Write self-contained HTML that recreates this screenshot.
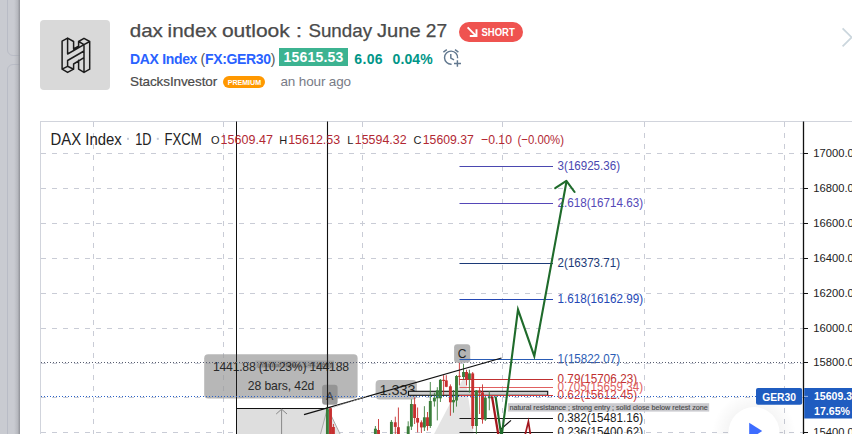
<!DOCTYPE html>
<html><head><meta charset="utf-8">
<style>
html,body{margin:0;padding:0;}
body{width:852px;height:434px;overflow:hidden;background:#fff;position:relative;font-family:"Liberation Sans",sans-serif;}
.abs{position:absolute;white-space:nowrap;}
#strip{left:0;top:0;width:20px;height:434px;background:#c9cbd1;}
.card{left:7px;width:20px;border:1px solid #b9bcc6;border-radius:6px;}
#avatar{left:40px;top:20px;width:70px;height:70px;border-radius:4px;background:#d9d9d9;}
#title{left:130px;top:19px;font-size:20px;line-height:24px;color:#4a4a4a;}
#short{left:459px;top:22px;width:64px;height:20px;border-radius:10px;background:#ef5350;color:#fff;font-size:10.5px;font-weight:bold;line-height:20px;letter-spacing:-0.55px;}
#sym{left:130px;top:49.6px;font-size:14px;line-height:18px;color:#2962ff;font-weight:bold;letter-spacing:-0.33px;}
#price{left:279px;top:48px;width:69px;height:17.5px;background:#3cb391;color:#fff;font-weight:bold;font-size:14px;line-height:18px;text-align:center;letter-spacing:0.2px;}
#chg,#chg2{left:354.3px;top:49.6px;font-size:14px;line-height:18px;color:#009688;font-weight:bold;letter-spacing:0.35px;}
#chg2{left:392.6px;letter-spacing:0.1px;}
#author{left:130px;top:72.7px;font-size:13.5px;line-height:18px;color:#4a4a4a;letter-spacing:-0.1px;-webkit-text-stroke:0.2px #4a4a4a;}
#prem{left:223px;top:76px;width:42px;height:12px;border-radius:6px;background:#ff9800;color:#fff;font-size:7.2px;line-height:12px;text-align:center;font-weight:bold;}
#ago{left:280.5px;top:72.7px;font-size:13.5px;line-height:18px;color:#787b86;letter-spacing:-0.15px;}
#chart{left:40px;top:121px;width:830px;height:330px;border:1px solid #d1d4dc;box-sizing:border-box;}
</style></head><body>
<div id="strip" class="abs"></div>
<div class="abs card" style="top:-10px;height:64px;"></div>
<div class="abs card" style="top:63.5px;height:400px;"></div>
<div id="stripshade" class="abs" style="left:14px;top:0;width:6px;height:434px;background:linear-gradient(90deg,rgba(150,152,158,0) 0,rgba(150,152,158,0.35) 60%,rgba(140,142,148,0.95) 100%);"></div>
<div class="abs" style="left:20px;top:0;width:832px;height:434px;background:#fff;"></div>
<div id="avatar" class="abs"></div>
<div id="short" class="abs"></div>
<div id="sym" class="abs">DAX Index <span style="color:#555;font-weight:normal">(</span>FX:GER30<span style="color:#555;font-weight:normal">)</span></div>
<div id="price" class="abs">15615.53</div>
<div id="chg" class="abs">6.06</div><div id="chg2" class="abs">0.04%</div>
<div id="author" class="abs">StacksInvestor</div>
<div id="prem" class="abs"></div>
<div id="ago" class="abs">an hour ago</div>
<div id="chart" class="abs"></div>
<svg class="abs" style="left:0;top:0" width="852" height="434" viewBox="0 0 852 434" font-family="Liberation Sans, sans-serif">
<!-- title -->
<g font-size="19" fill="#4a4a4a" stroke="#4a4a4a" stroke-width="0.25"><text x="129.7" y="37.2" textLength="33.2" lengthAdjust="spacingAndGlyphs">dax</text><text x="167.6" y="37.2" textLength="49.1" lengthAdjust="spacingAndGlyphs">index</text><text x="221.9" y="37.2" textLength="68.0" lengthAdjust="spacingAndGlyphs">outlook</text><text x="295.8" y="37.2" textLength="6.4" lengthAdjust="spacingAndGlyphs">:</text><text x="308.4" y="37.2" textLength="63.7" lengthAdjust="spacingAndGlyphs">Sunday</text><text x="376.9" y="37.2" textLength="43.7" lengthAdjust="spacingAndGlyphs">June</text><text x="425.8" y="37.2" textLength="21.3" lengthAdjust="spacingAndGlyphs">27</text></g>
<!-- avatar logo -->
<g fill="none" stroke="#1c1c1c" stroke-width="1.5" stroke-linejoin="round" stroke-linecap="round">
<path d="M62.1 69.2 L62.1 41.2 L67.6 38.1 L73.6 41.5 L73.6 49.0 M62.1 69.2 L67.6 72.4 L73.6 69.2 L67.6 66.3 Z M67.6 38.1 L67.6 54.0 M67.6 66.3 L67.6 60.5 M73.6 69.2 L73.6 64.0 M78.6 41.5 L84.0 38.3 L89.7 41.5 L84.0 44.7 Z M89.7 41.5 L89.7 69.2 L84.0 72.4 L78.6 69.2 L78.6 60.2 M84.0 44.7 L84.0 72.4 M78.6 41.5 L78.6 46.4 M73.6 49.0 L78.6 46.1 M67.6 54.0 L84.0 44.7 M67.6 60.5 L84.0 51.0 M73.6 64.0 L84.0 57.6"/>
</g>
<text x="227.7" y="84.9" font-size="8" font-weight="bold" fill="#fff" textLength="33.4" lengthAdjust="spacingAndGlyphs">PREMIUM</text>
<!-- short arrow -->
<text x="481.5" y="35.8" font-size="10.8" font-weight="bold" fill="#fff" textLength="33.3" lengthAdjust="spacingAndGlyphs">SHORT</text>
<g stroke="#fff" stroke-width="1.9" fill="none" stroke-linecap="butt" stroke-linejoin="miter">
<path d="M467.6 27.4 L476 35.8 M469.8 36 L476.5 36 L476.5 29.2"/>
</g>
<!-- alarm icon -->
<g stroke="#62788f" stroke-width="1.45" fill="none" stroke-linecap="butt">
<path d="M457.6 58.2 A6.55 6.55 0 1 0 451.6 64.2"/>
<path d="M450.8 54 L450.8 58 L454 59.9"/>
<path d="M443.4 52.1 L446.8 49.6 M455 49.6 L458.4 52.1"/>
<path d="M457.4 60.2 L457.4 66.8 M454 63.5 L461 63.5"/>
</g>
<!-- chevron -->
<path d="M842.6 28.4 L851.7 37.4 L842.6 46.4" stroke="#cbd6dd" stroke-width="1.8" fill="none"/>
<g stroke="#c9ccd6" stroke-width="1" stroke-dasharray="5 6" shape-rendering="auto"><line x1="41" y1="153.5" x2="803" y2="153.5" />
<line x1="41" y1="188.5" x2="803" y2="188.5" />
<line x1="41" y1="223.5" x2="803" y2="223.5" />
<line x1="41" y1="258.5" x2="803" y2="258.5" />
<line x1="41" y1="293.5" x2="803" y2="293.5" />
<line x1="41" y1="328.5" x2="803" y2="328.5" />
<line x1="41" y1="363.5" x2="803" y2="363.5" />
<line x1="41" y1="397.5" x2="803" y2="397.5" />
<line x1="41" y1="432.5" x2="803" y2="432.5" />
<line x1="93.5" y1="122" x2="93.5" y2="434" />
<line x1="223.5" y1="122" x2="223.5" y2="434" />
<line x1="362.5" y1="122" x2="362.5" y2="434" />
<line x1="502.5" y1="122" x2="502.5" y2="434" />
<line x1="644.5" y1="122" x2="644.5" y2="434" />
<line x1="784.5" y1="122" x2="784.5" y2="434" /></g>
<!-- measure fill -->
<rect x="237" y="408.4" width="90.5" height="30" fill="#dedede"/>
<polygon points="327.5,408 320,436 341,436" fill="#e6e6e6" stroke="#aaa" stroke-width="1"/>
<polygon points="465,375 433,436 474,436" fill="#e4e4e4"/>
<line x1="236.5" y1="121.5" x2="236.5" y2="434" stroke="#111" stroke-width="1"/>
<line x1="327.5" y1="121.5" x2="327.5" y2="434" stroke="#111" stroke-width="1.1"/>
<line x1="236.5" y1="408.5" x2="327.5" y2="408.5" stroke="#111" stroke-width="1.1"/>
<path d="M281.6 434 L281.6 409.5 M276.2 414 L281.6 409.2 L287 414" stroke="#888" stroke-width="1" fill="none"/>
<!-- dotted lines -->
<!-- measure label -->
<rect x="204.2" y="354.2" width="153.4" height="44.2" rx="4" fill="#999" fill-opacity="0.7"/>
<rect x="255.5" y="360.6" width="78.5" height="7.6" fill="#999" fill-opacity="0.7"/>
<text x="257" y="367" font-size="5.5" fill="#666" textLength="75" lengthAdjust="spacingAndGlyphs">(natural retest 1441.88)</text>
<text x="213" y="370.6" font-size="12.2" fill="#2a2a2a" textLength="136" lengthAdjust="spacing">1441.88 (10.23%) 144188</text>
<text x="247.8" y="390.4" font-size="12.2" fill="#2a2a2a" textLength="66.6" lengthAdjust="spacing">28 bars, 42d</text>
<rect x="322.1" y="384.8" width="15.5" height="19.9" rx="3" fill="#909090" fill-opacity="0.9"/>
<text x="326" y="399.6" font-size="11" fill="#444">A</text>
<line x1="236.5" y1="354" x2="236.5" y2="399" stroke="#111" stroke-width="1" opacity="0.9"/>
<line x1="327.5" y1="354" x2="327.5" y2="409" stroke="#111" stroke-width="1.1" opacity="0.9"/>
<!-- 1.333 label -->
<rect x="375.6" y="380" width="41.3" height="19.4" rx="4" fill="#b4b4b4" fill-opacity="0.9"/>
<text x="379.4" y="394.8" font-size="14" fill="#2a2a2a" textLength="36" lengthAdjust="spacingAndGlyphs">1.333</text>
<!-- gray bar -->
<rect x="408.5" y="391.3" width="139.2" height="4" fill="#cfcfcf" stroke="#111" stroke-width="1.1"/>
<line x1="459.5" y1="166.5" x2="553" y2="166.5" stroke="#4a48b0" stroke-width="1.1"/>
<text x="557.6" y="170.4" font-size="12.1" fill="#4a48b0" textLength="62.4" lengthAdjust="spacingAndGlyphs">3(16925.36)</text>
<line x1="459.5" y1="203.5" x2="553" y2="203.5" stroke="#5548b8" stroke-width="1.1"/>
<text x="557.6" y="207.4" font-size="12.1" fill="#5548b8" textLength="85.5" lengthAdjust="spacingAndGlyphs">2.618(16714.63)</text>
<line x1="459.5" y1="263.5" x2="553" y2="263.5" stroke="#1c3a78" stroke-width="1.1"/>
<text x="557.6" y="267.4" font-size="12.1" fill="#1c3a78" textLength="62.4" lengthAdjust="spacingAndGlyphs">2(16373.71)</text>
<line x1="459.5" y1="299.5" x2="553" y2="299.5" stroke="#2447b5" stroke-width="1.1"/>
<text x="557.6" y="303.4" font-size="12.1" fill="#2447b5" textLength="85.5" lengthAdjust="spacingAndGlyphs">1.618(16162.99)</text>
<line x1="459.5" y1="359.5" x2="553" y2="359.5" stroke="#2a5cb5" stroke-width="1.1"/>
<text x="557.6" y="363.4" font-size="12.1" fill="#2a5cb5" textLength="62.4" lengthAdjust="spacingAndGlyphs">1(15822.07)</text>
<line x1="459.5" y1="379.5" x2="553" y2="379.5" stroke="#c03030" stroke-width="1.1"/>
<text x="557.6" y="383.4" font-size="12.1" fill="#c03030" textLength="79.5" lengthAdjust="spacingAndGlyphs">0.79(15706.23)</text>
<line x1="459.5" y1="387.5" x2="553" y2="387.5" stroke="#e06060" stroke-width="1.1"/>
<text x="557.6" y="391.4" font-size="12.1" fill="#e06060" textLength="85.5" lengthAdjust="spacingAndGlyphs">0.705(15659.34)</text>
<line x1="459.5" y1="395.5" x2="553" y2="395.5" stroke="#d03a3a" stroke-width="1.1"/>
<text x="557.6" y="399.4" font-size="12.1" fill="#d03a3a" textLength="79.5" lengthAdjust="spacingAndGlyphs">0.62(15612.45)</text>
<line x1="459.5" y1="418.5" x2="553" y2="418.5" stroke="#1a1a1a" stroke-width="1.1"/>
<text x="557.6" y="422.4" font-size="12.1" fill="#1a1a1a" textLength="85.5" lengthAdjust="spacingAndGlyphs">0.382(15481.16)</text>
<line x1="459.5" y1="432.5" x2="553" y2="432.5" stroke="#1a1a1a" stroke-width="1.1"/>
<text x="557.6" y="436.4" font-size="12.1" fill="#1a1a1a" textLength="85.5" lengthAdjust="spacingAndGlyphs">0.236(15400.62)</text>
<line x1="327.4" y1="407.5" x2="327.4" y2="436" stroke="#3a7d3a" stroke-width="0.9"/>
<rect x="325.95" y="407.5" width="2.9" height="28.5" fill="#3a7d3a"/>
<line x1="330.5" y1="407.5" x2="330.5" y2="436" stroke="#c62f2f" stroke-width="0.9"/>
<rect x="329.05" y="407.5" width="2.9" height="28.5" fill="#c62f2f"/>
<line x1="333.4" y1="424" x2="333.4" y2="436" stroke="#c62f2f" stroke-width="0.9"/>
<rect x="331.95" y="427" width="2.9" height="9.0" fill="#c62f2f"/>
<line x1="375.4" y1="426" x2="375.4" y2="436" stroke="#3a7d3a" stroke-width="0.9"/>
<rect x="373.95" y="428.7" width="2.9" height="7.3" fill="#3a7d3a"/>
<line x1="378.5" y1="419" x2="378.5" y2="436" stroke="#c62f2f" stroke-width="0.9"/>
<rect x="377.05" y="430" width="2.9" height="6.0" fill="#c62f2f"/>
<line x1="391.4" y1="420" x2="391.4" y2="436" stroke="#3a7d3a" stroke-width="0.9"/>
<rect x="389.95" y="421.9" width="2.9" height="14.1" fill="#3a7d3a"/>
<line x1="395.3" y1="416.7" x2="395.3" y2="436" stroke="#c62f2f" stroke-width="0.9"/>
<rect x="393.85" y="422.3" width="2.9" height="4.6" fill="#c62f2f"/>
<line x1="398.4" y1="407.5" x2="398.4" y2="436" stroke="#c62f2f" stroke-width="0.9"/>
<rect x="396.95" y="427.2" width="2.9" height="8.8" fill="#c62f2f"/>
<line x1="408.2" y1="421.3" x2="408.2" y2="436" stroke="#3a7d3a" stroke-width="0.9"/>
<rect x="406.75" y="426.3" width="2.9" height="9.7" fill="#3a7d3a"/>
<line x1="411.4" y1="399.2" x2="411.4" y2="430" stroke="#3a7d3a" stroke-width="0.9"/>
<rect x="409.95" y="404.0" width="2.9" height="22.6" fill="#3a7d3a"/>
<line x1="414.6" y1="397.4" x2="414.6" y2="424" stroke="#c62f2f" stroke-width="0.9"/>
<rect x="413.15" y="404.2" width="2.9" height="13.8" fill="#c62f2f"/>
<line x1="417.6" y1="407.5" x2="417.6" y2="432.4" stroke="#c62f2f" stroke-width="0.9"/>
<rect x="416.15" y="418" width="2.9" height="4.6" fill="#c62f2f"/>
<line x1="421.4" y1="420.4" x2="421.4" y2="433" stroke="#c62f2f" stroke-width="0.9"/>
<rect x="419.95" y="422.3" width="2.9" height="5.1" fill="#c62f2f"/>
<line x1="424.4" y1="406.2" x2="424.4" y2="431" stroke="#3a7d3a" stroke-width="0.9"/>
<rect x="422.95" y="417.3" width="2.9" height="10.1" fill="#3a7d3a"/>
<line x1="427.5" y1="412" x2="427.5" y2="430.6" stroke="#c62f2f" stroke-width="0.9"/>
<rect x="426.05" y="417.3" width="2.9" height="8.7" fill="#c62f2f"/>
<line x1="430.3" y1="382" x2="430.3" y2="428" stroke="#3a7d3a" stroke-width="0.9"/>
<rect x="428.85" y="401" width="2.9" height="25.0" fill="#3a7d3a"/>
<line x1="434.4" y1="392.7" x2="434.4" y2="406.6" stroke="#3a7d3a" stroke-width="0.9"/>
<rect x="432.95" y="397.7" width="2.9" height="3.7" fill="#3a7d3a"/>
<line x1="437.3" y1="387.2" x2="437.3" y2="420.4" stroke="#3a7d3a" stroke-width="0.9"/>
<rect x="435.85" y="390.3" width="2.9" height="8.0" fill="#3a7d3a"/>
<line x1="440.4" y1="379" x2="440.4" y2="402" stroke="#3a7d3a" stroke-width="0.9"/>
<rect x="438.95" y="379.8" width="2.9" height="18.5" fill="#3a7d3a"/>
<line x1="443.6" y1="375.2" x2="443.6" y2="395" stroke="#c62f2f" stroke-width="0.9"/>
<rect x="442.15" y="379.8" width="2.9" height="1.2" fill="#c62f2f"/>
<line x1="446.3" y1="375.2" x2="446.3" y2="387.2" stroke="#c62f2f" stroke-width="0.9"/>
<rect x="444.85" y="380.4" width="2.9" height="6.4" fill="#c62f2f"/>
<line x1="450.4" y1="384.4" x2="450.4" y2="415.8" stroke="#c62f2f" stroke-width="0.9"/>
<rect x="448.95" y="386.3" width="2.9" height="16.0" fill="#c62f2f"/>
<line x1="453.5" y1="390" x2="453.5" y2="412.7" stroke="#3a7d3a" stroke-width="0.9"/>
<rect x="452.05" y="400" width="2.9" height="2.3" fill="#3a7d3a"/>
<line x1="456.5" y1="375" x2="456.5" y2="406.6" stroke="#3a7d3a" stroke-width="0.9"/>
<rect x="455.05" y="376" width="2.9" height="24.5" fill="#3a7d3a"/>
<line x1="459.4" y1="362.3" x2="459.4" y2="385.4" stroke="#c62f2f" stroke-width="0.9"/>
<rect x="457.95" y="375.8" width="2.9" height="1.0" fill="#c62f2f"/>
<line x1="463.5" y1="364" x2="463.5" y2="379.8" stroke="#3a7d3a" stroke-width="0.9"/>
<rect x="462.05" y="372" width="2.9" height="5.0" fill="#3a7d3a"/>
<line x1="466.5" y1="369.7" x2="466.5" y2="385.4" stroke="#c62f2f" stroke-width="0.9"/>
<rect x="465.05" y="372" width="2.9" height="7.0" fill="#c62f2f"/>
<line x1="469.4" y1="369.7" x2="469.4" y2="392.7" stroke="#3a7d3a" stroke-width="0.9"/>
<rect x="467.95" y="373.4" width="2.9" height="5.6" fill="#3a7d3a"/>
<line x1="472.7" y1="372" x2="472.7" y2="428.7" stroke="#c62f2f" stroke-width="0.9"/>
<rect x="471.25" y="373.4" width="2.9" height="52.6" fill="#c62f2f"/>
<line x1="476.4" y1="390" x2="476.4" y2="436" stroke="#3a7d3a" stroke-width="0.9"/>
<rect x="474.95" y="390.5" width="2.9" height="35.5" fill="#3a7d3a"/>
<line x1="479.6" y1="387.2" x2="479.6" y2="414" stroke="#c62f2f" stroke-width="0.9"/>
<rect x="478.15" y="390.5" width="2.9" height="2.2" fill="#c62f2f"/>
<line x1="482.5" y1="384.4" x2="482.5" y2="423.7" stroke="#c62f2f" stroke-width="0.9"/>
<rect x="481.05" y="392.4" width="2.9" height="27.1" fill="#c62f2f"/>
<line x1="485.3" y1="396" x2="485.3" y2="421" stroke="#3a7d3a" stroke-width="0.9"/>
<rect x="483.85" y="397.7" width="2.9" height="21.8" fill="#3a7d3a"/>
<line x1="489.3" y1="391" x2="489.3" y2="410.3" stroke="#3a7d3a" stroke-width="0.9"/>
<rect x="487.85" y="396.4" width="2.9" height="1.9" fill="#3a7d3a"/>
<line x1="41" y1="362.5" x2="803" y2="362.5" stroke="#5a5f70" stroke-width="1" stroke-dasharray="1 2"/>
<line x1="41" y1="396.5" x2="756" y2="396.5" stroke="#2a62c8" stroke-width="1.1" stroke-dasharray="1 2"/>
<!-- trend line -->
<line x1="304" y1="414.6" x2="501.5" y2="358" stroke="#111" stroke-width="1.3"/>
<line x1="328" y1="409" x2="366" y2="396.5" stroke="#aaa" stroke-width="1" stroke-dasharray="1.5 1.5"/>
<!-- C label -->
<rect x="454.1" y="344.3" width="16.1" height="18.5" rx="3" fill="#b0b0b0" fill-opacity="0.95"/>
<text x="457.8" y="357.6" font-size="12" fill="#222">C</text>
<line x1="459.5" y1="359.5" x2="471" y2="359.5" stroke="#2a5cb5" stroke-width="1.1"/>
<!-- comment label -->
<rect x="507.9" y="403.2" width="201.3" height="8.4" fill="#cbcbcf"/>
<text x="509.4" y="410" font-size="7.4" fill="#4a4a4a" stroke="#4a4a4a" stroke-width="0.15" textLength="198.4" lengthAdjust="spacingAndGlyphs">natural resistance ; strong entry ; solid close below retest zone</text>
<!-- small black tick -->
<line x1="500.5" y1="429.5" x2="511" y2="420.4" stroke="#111" stroke-width="1.2"/>
<!-- red projection -->
<path d="M492 396.5 L498.7 437" stroke="#a4181f" stroke-width="2.3" fill="none"/>
<path d="M524.6 437 L528.4 421.5 L530.8 437" stroke="#a4181f" stroke-width="1.7" fill="none" stroke-linejoin="miter" stroke-miterlimit="30"/>
<!-- green projection -->
<path d="M495.6 396.5 L501.5 437.5 L518 309.6 L534.3 356.2 L566.5 181.5" stroke="#1f6b2b" stroke-width="2.1" fill="none" stroke-linejoin="miter" stroke-miterlimit="30"/>
<path d="M555.2 188.2 L566.4 180.8 L574.6 192" stroke="#1f6b2b" stroke-width="2.1" fill="none" stroke-linecap="round" stroke-linejoin="round"/>
<!-- legend -->
<g font-size="15.8" fill="#222">
<text x="50.5" y="144.5" textLength="71.2" lengthAdjust="spacingAndGlyphs">DAX Index</text>
<text x="135.2" y="144.5" textLength="16.3" lengthAdjust="spacingAndGlyphs">1D</text>
<text x="164.6" y="144.5" textLength="37.2" lengthAdjust="spacingAndGlyphs">FXCM</text>
</g>
<rect x="127" y="137.8" width="2" height="2" fill="#c3cad8"/>
<rect x="156.8" y="137.8" width="2" height="2" fill="#c3cad8"/>
<g font-size="13">
<text x="211" y="144.2" fill="#222" font-size="11">O</text>
<text x="220.6" y="144.2" fill="#b22833" textLength="52.3" lengthAdjust="spacingAndGlyphs">15609.47</text>
<text x="279.2" y="144.2" fill="#222" font-size="11">H</text>
<text x="288.2" y="144.2" fill="#b22833" textLength="52" lengthAdjust="spacingAndGlyphs">15612.53</text>
<text x="347.2" y="144.2" fill="#222" font-size="11">L</text>
<text x="354.8" y="144.2" fill="#b22833" textLength="51.8" lengthAdjust="spacingAndGlyphs">15594.32</text>
<text x="413.4" y="144.2" fill="#222" font-size="11">C</text>
<text x="422.8" y="144.2" fill="#b22833" textLength="51" lengthAdjust="spacingAndGlyphs">15609.37</text>
<text x="481" y="144.2" fill="#b22833" textLength="31" lengthAdjust="spacingAndGlyphs">−0.10</text>
<text x="517.5" y="144.2" fill="#b22833" textLength="46.5" lengthAdjust="spacingAndGlyphs">(−0.00%)</text>
</g>
<!-- price axis -->
<rect x="804" y="122" width="48" height="312" fill="#fff"/>
<line x1="803.5" y1="121.5" x2="803.5" y2="434" stroke="#111" stroke-width="1.3"/>
<line x1="803" y1="153.5" x2="808" y2="153.5" stroke="#111" stroke-width="1"/>
<text x="813.3" y="157.0" font-size="11.2" fill="#222">17000.00</text>
<line x1="803" y1="188.5" x2="808" y2="188.5" stroke="#111" stroke-width="1"/>
<text x="813.3" y="192.0" font-size="11.2" fill="#222">16800.00</text>
<line x1="803" y1="223.5" x2="808" y2="223.5" stroke="#111" stroke-width="1"/>
<text x="813.3" y="227.0" font-size="11.2" fill="#222">16600.00</text>
<line x1="803" y1="258.5" x2="808" y2="258.5" stroke="#111" stroke-width="1"/>
<text x="813.3" y="262.0" font-size="11.2" fill="#222">16400.00</text>
<line x1="803" y1="293.5" x2="808" y2="293.5" stroke="#111" stroke-width="1"/>
<text x="813.3" y="297.0" font-size="11.2" fill="#222">16200.00</text>
<line x1="803" y1="328.5" x2="808" y2="328.5" stroke="#111" stroke-width="1"/>
<text x="813.3" y="332.0" font-size="11.2" fill="#222">16000.00</text>
<line x1="803" y1="362.5" x2="808" y2="362.5" stroke="#111" stroke-width="1"/>
<text x="813.3" y="366.0" font-size="11.2" fill="#222">15800.00</text>
<line x1="803" y1="397.5" x2="808" y2="397.5" stroke="#111" stroke-width="1"/>
<text x="813.3" y="401.0" font-size="11.2" fill="#222">15600.00</text>
<line x1="803" y1="432.5" x2="808" y2="432.5" stroke="#111" stroke-width="1"/>
<text x="813.3" y="436.0" font-size="11.2" fill="#222">15400.00</text>
<!-- play circle -->
<defs><radialGradient id="sh" cx="50%" cy="50%" r="50%"><stop offset="0.6" stop-color="#000" stop-opacity="0.04"/><stop offset="1" stop-color="#000" stop-opacity="0"/></radialGradient></defs>
<circle cx="754" cy="434" r="42" fill="url(#sh)"/>
<circle cx="754" cy="432.5" r="25.5" fill="#fff"/>
<path d="M749.2 422.8 L762.2 431 L749.2 439.5 Z" fill="#3d6cff"/>
<!-- GER30 + price -->
<rect x="756" y="388.1" width="46.2" height="16.6" rx="2" fill="#1f5cc0"/>
<text x="762.2" y="400.6" font-size="11.6" font-weight="bold" fill="#fff" textLength="33.8" lengthAdjust="spacingAndGlyphs">GER30</text>
<rect x="804.2" y="388" width="48" height="30.5" fill="#1f5cc0"/>
<line x1="804" y1="396.4" x2="808" y2="396.4" stroke="#9bb8ea" stroke-width="1"/>
<text x="814" y="400.4" font-size="11.6" font-weight="bold" fill="#fff" textLength="44" lengthAdjust="spacingAndGlyphs">15609.37</text>
<text x="814" y="414.8" font-size="11.6" font-weight="bold" fill="#fff" textLength="36" lengthAdjust="spacingAndGlyphs">17.65%</text>
</svg>
</body></html>
